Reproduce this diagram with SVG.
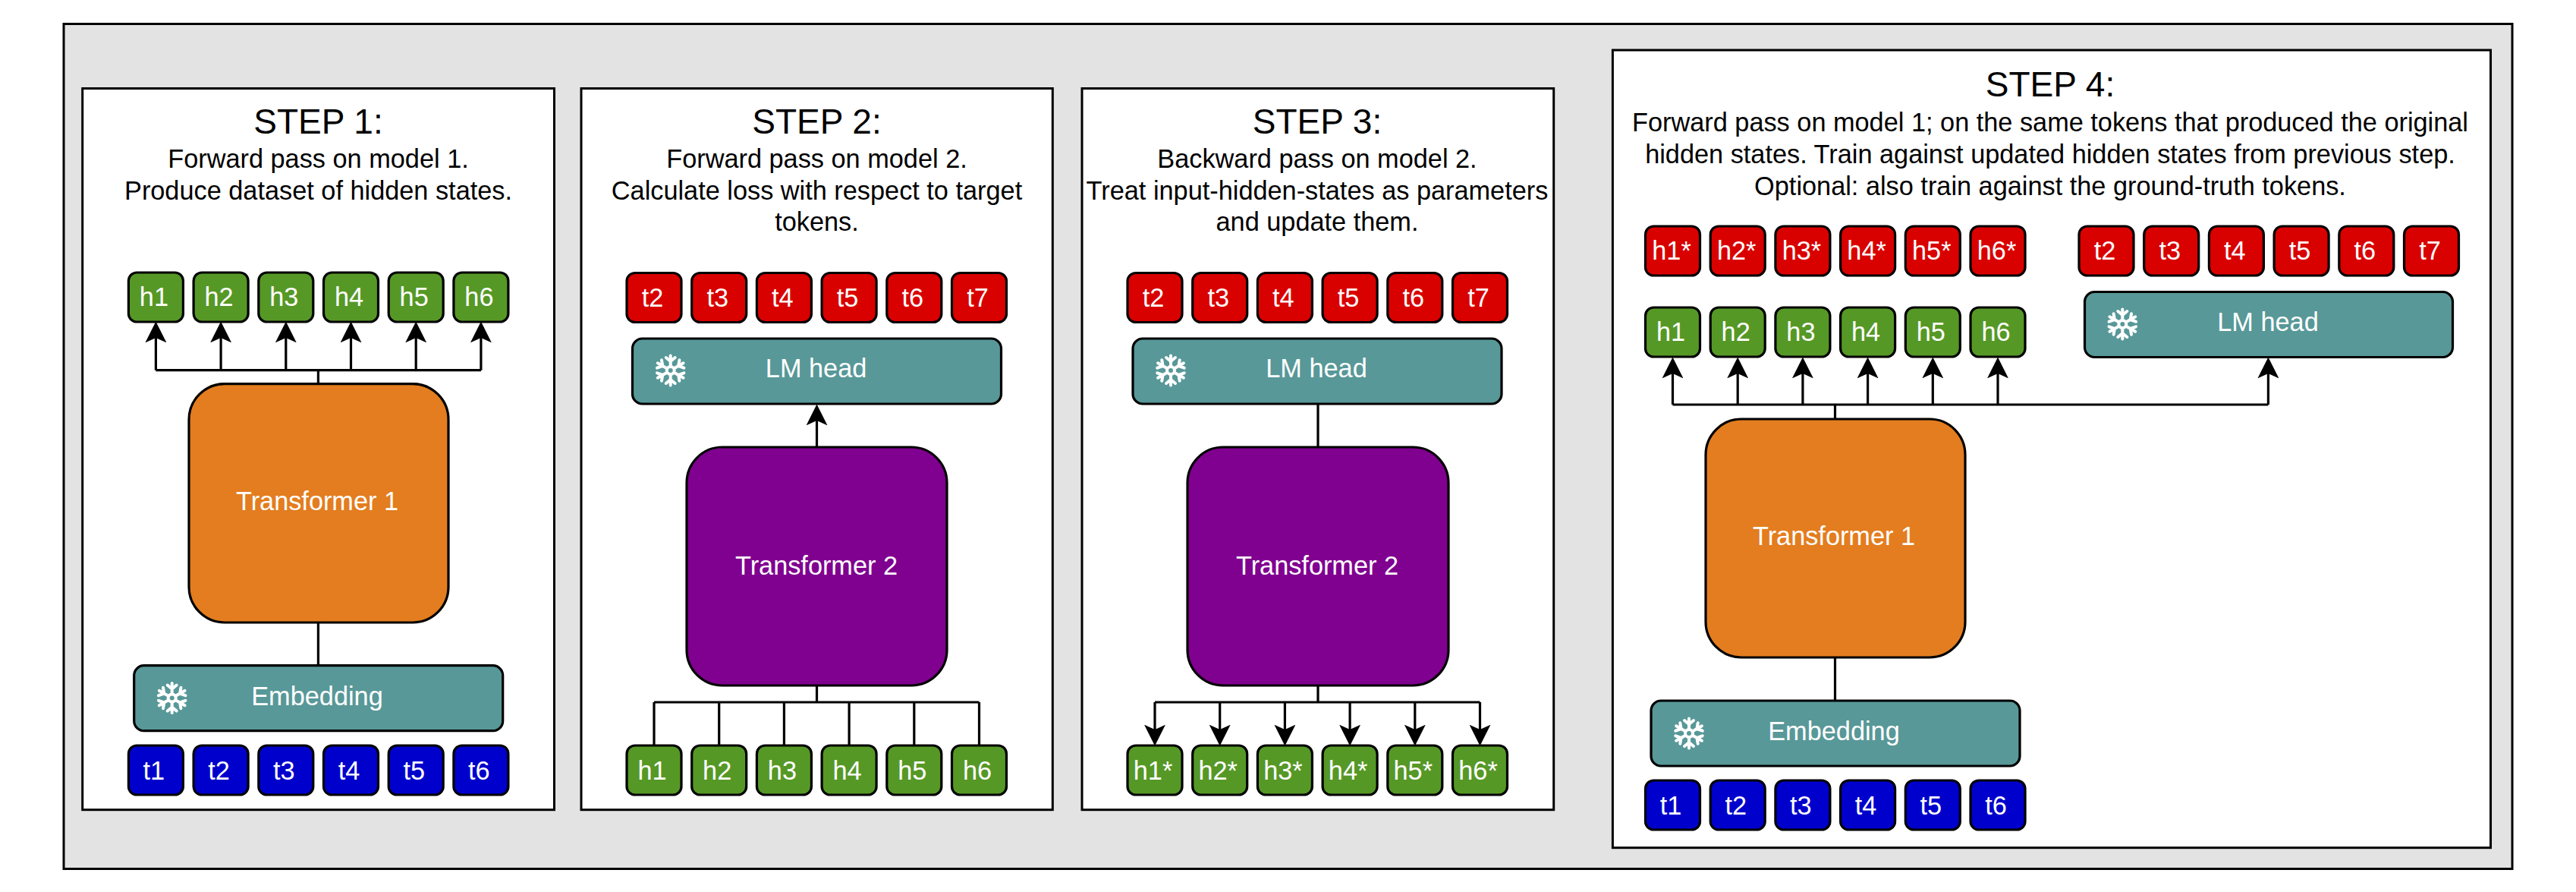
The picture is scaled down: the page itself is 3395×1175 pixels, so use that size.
<svg xmlns="http://www.w3.org/2000/svg" xmlns:xlink="http://www.w3.org/1999/xlink" width="3395" height="1175" viewBox="0 0 3395 1175">
<style>
text{font-family:"Liberation Sans",Arial,Helvetica,sans-serif;text-anchor:middle}
.panel{fill:#fff;stroke:#000;stroke-width:3}
.title{font-size:46px;fill:#000}
.sub{font-size:34.3px;fill:#000}
.n rect{stroke:#000;stroke-width:3.2}
.n text{font-size:34.3px;fill:#fff}
.green rect{fill:#569826}
.red rect{fill:#d90000}
.blue rect{fill:#0000cc}
.teal rect{fill:#589898}
.orange rect{fill:#e37d1f}
.purple rect{fill:#800090}
.conn path{fill:none;stroke:#000;stroke-width:3.2}
.fk{fill:none;stroke:#fff;stroke-width:4;stroke-linecap:round;stroke-linejoin:round}
</style>
<defs>
<marker id="arrow" markerUnits="userSpaceOnUse" markerWidth="28" markerHeight="28" refX="18" refY="13" orient="auto" viewBox="0 0 26 26"><path d="M0,0L26,13L0,26L6,13Z" fill="#000"/></marker>
<path id="arm" class="fk" d="M0,-7V-19.5M-6,-17L0,-12L6,-17"/>
<g id="flake"><circle class="fk" r="5"/><use xlink:href="#arm" href="#arm"/><use xlink:href="#arm" href="#arm" transform="rotate(60)"/><use xlink:href="#arm" href="#arm" transform="rotate(120)"/><use xlink:href="#arm" href="#arm" transform="rotate(180)"/><use xlink:href="#arm" href="#arm" transform="rotate(240)"/><use xlink:href="#arm" href="#arm" transform="rotate(300)"/></g>
</defs>
<rect id="frame" x="84" y="31.5" width="3227" height="1113" fill="#e3e3e3" stroke="#000" stroke-width="3"/>

<g id="panel-step1"><rect class="panel" x="108.7" y="116.5" width="621.8" height="950.2"/><text class="title" x="419.5" y="176">STEP 1:</text><text class="sub" x="419.5" y="220.7">Forward pass on model 1.</text><text class="sub" x="419.5" y="263">Produce dataset of hidden states.</text></g>
<g id="panel-step2"><rect class="panel" x="766" y="116.5" width="621.3" height="950.2"/><text class="title" x="1076.5" y="176">STEP 2:</text><text class="sub" x="1076.5" y="220.7">Forward pass on model 2.</text><text class="sub" x="1076.5" y="263.3">Calculate loss with respect to target</text><text class="sub" x="1076.5" y="304">tokens.</text></g>
<g id="panel-step3"><rect class="panel" x="1426" y="116.5" width="621.7" height="950.2"/><text class="title" x="1736" y="176">STEP 3:</text><text class="sub" x="1736" y="220.7">Backward pass on model 2.</text><text class="sub" x="1736" y="263.3">Treat input-hidden-states as parameters</text><text class="sub" x="1736" y="304">and update them.</text></g>
<g id="panel-step4"><rect class="panel" x="2125.4" y="66" width="1157.1" height="1050.7"/><text class="title" x="2702" y="126.7">STEP 4:</text><text class="sub" x="2702" y="172.7">Forward pass on model 1; on the same tokens that produced the original</text><text class="sub" x="2702" y="215">hidden states. Train against updated hidden states from previous step.</text><text class="sub" x="2702" y="256.5">Optional: also train against the ground-truth tokens.</text></g>

<g id="connectors" class="conn">
<path d="M419.4,505.7V487.7M205.4,487.7H633.9"/>
<path d="M205.4,487.7V432" marker-end="url(#arrow)"/><path d="M291.1,487.7V432" marker-end="url(#arrow)"/><path d="M376.8,487.7V432" marker-end="url(#arrow)"/><path d="M462.5,487.7V432" marker-end="url(#arrow)"/><path d="M548.2,487.7V432" marker-end="url(#arrow)"/><path d="M633.9,487.7V432" marker-end="url(#arrow)"/>
<path d="M419.4,820V876.7"/>
<path d="M1076.5,589V541" marker-end="url(#arrow)"/>
<path d="M1076.5,903V925M862,925H1290.5M862,925V982M947.7,925V982M1033.4,925V982M1119.1,925V982M1204.8,925V982M1290.5,925V982"/>
<path d="M1737,589V531"/>
<path d="M1737,903V925M1522,925H1950.5"/>
<path d="M1522,925V974" marker-end="url(#arrow)"/><path d="M1607.7,925V974" marker-end="url(#arrow)"/><path d="M1693.4,925V974" marker-end="url(#arrow)"/><path d="M1779.1,925V974" marker-end="url(#arrow)"/><path d="M1864.8,925V974" marker-end="url(#arrow)"/><path d="M1950.5,925V974" marker-end="url(#arrow)"/>
<path d="M2418.5,552V533M2204.5,533H2989.4"/>
<path d="M2204.5,533V479" marker-end="url(#arrow)"/><path d="M2290.2,533V479" marker-end="url(#arrow)"/><path d="M2375.9,533V479" marker-end="url(#arrow)"/><path d="M2461.6,533V479" marker-end="url(#arrow)"/><path d="M2547.3,533V479" marker-end="url(#arrow)"/><path d="M2633,533V479" marker-end="url(#arrow)"/><path d="M2989.4,533V479" marker-end="url(#arrow)"/>
<path d="M2418.5,866V923"/>
</g>

<g id="s1-h1" class="n green"><rect x="169.4" y="359" width="72" height="65" rx="11"/><text x="202.9" y="403">h1</text></g>
<g id="s1-h2" class="n green"><rect x="255.1" y="359" width="72" height="65" rx="11"/><text x="288.6" y="403">h2</text></g>
<g id="s1-h3" class="n green"><rect x="340.8" y="359" width="72" height="65" rx="11"/><text x="374.3" y="403">h3</text></g>
<g id="s1-h4" class="n green"><rect x="426.5" y="359" width="72" height="65" rx="11"/><text x="460" y="403">h4</text></g>
<g id="s1-h5" class="n green"><rect x="512.2" y="359" width="72" height="65" rx="11"/><text x="545.7" y="403">h5</text></g>
<g id="s1-h6" class="n green"><rect x="597.9" y="359" width="72" height="65" rx="11"/><text x="631.4" y="403">h6</text></g>
<g id="s1-transformer" class="n orange"><rect x="249" y="505.7" width="342" height="314.3" rx="47"/><text x="418" y="672">Transformer 1</text></g>
<g id="s1-embedding" class="n teal"><rect x="176.7" y="876.7" width="486" height="86" rx="13"/><use href="#flake" xlink:href="#flake" x="226.7" y="919.5"/><text x="418" y="929">Embedding</text></g>
<g id="s1-t1" class="n blue"><rect x="169.4" y="982" width="72" height="65" rx="11"/><text x="202.9" y="1026.7">t1</text></g>
<g id="s1-t2" class="n blue"><rect x="255.1" y="982" width="72" height="65" rx="11"/><text x="288.6" y="1026.7">t2</text></g>
<g id="s1-t3" class="n blue"><rect x="340.8" y="982" width="72" height="65" rx="11"/><text x="374.3" y="1026.7">t3</text></g>
<g id="s1-t4" class="n blue"><rect x="426.5" y="982" width="72" height="65" rx="11"/><text x="460" y="1026.7">t4</text></g>
<g id="s1-t5" class="n blue"><rect x="512.2" y="982" width="72" height="65" rx="11"/><text x="545.7" y="1026.7">t5</text></g>
<g id="s1-t6" class="n blue"><rect x="597.9" y="982" width="72" height="65" rx="11"/><text x="631.4" y="1026.7">t6</text></g>

<g id="s2-t2" class="n red"><rect x="826" y="359.5" width="72" height="65" rx="11"/><text x="860" y="403.5">t2</text></g>
<g id="s2-t3" class="n red"><rect x="911.7" y="359.5" width="72" height="65" rx="11"/><text x="945.7" y="403.5">t3</text></g>
<g id="s2-t4" class="n red"><rect x="997.4" y="359.5" width="72" height="65" rx="11"/><text x="1031.4" y="403.5">t4</text></g>
<g id="s2-t5" class="n red"><rect x="1083.1" y="359.5" width="72" height="65" rx="11"/><text x="1117.1" y="403.5">t5</text></g>
<g id="s2-t6" class="n red"><rect x="1168.8" y="359.5" width="72" height="65" rx="11"/><text x="1202.8" y="403.5">t6</text></g>
<g id="s2-t7" class="n red"><rect x="1254.5" y="359.5" width="72" height="65" rx="11"/><text x="1288.5" y="403.5">t7</text></g>
<g id="s2-lmhead" class="n teal"><rect x="833.5" y="446" width="486" height="86" rx="13"/><use href="#flake" xlink:href="#flake" x="883.7" y="488"/><text x="1075.6" y="497.3">LM head</text></g>
<g id="s2-transformer" class="n purple"><rect x="905" y="589" width="343" height="314" rx="47"/><text x="1076" y="757">Transformer 2</text></g>
<g id="s2-h1" class="n green"><rect x="826" y="982" width="72" height="65" rx="11"/><text x="859.5" y="1026.7">h1</text></g>
<g id="s2-h2" class="n green"><rect x="911.7" y="982" width="72" height="65" rx="11"/><text x="945.2" y="1026.7">h2</text></g>
<g id="s2-h3" class="n green"><rect x="997.4" y="982" width="72" height="65" rx="11"/><text x="1030.9" y="1026.7">h3</text></g>
<g id="s2-h4" class="n green"><rect x="1083.1" y="982" width="72" height="65" rx="11"/><text x="1116.6" y="1026.7">h4</text></g>
<g id="s2-h5" class="n green"><rect x="1168.8" y="982" width="72" height="65" rx="11"/><text x="1202.3" y="1026.7">h5</text></g>
<g id="s2-h6" class="n green"><rect x="1254.5" y="982" width="72" height="65" rx="11"/><text x="1288" y="1026.7">h6</text></g>

<g id="s3-t2" class="n red"><rect x="1486" y="359.5" width="72" height="65" rx="11"/><text x="1520" y="403.5">t2</text></g>
<g id="s3-t3" class="n red"><rect x="1571.7" y="359.5" width="72" height="65" rx="11"/><text x="1605.7" y="403.5">t3</text></g>
<g id="s3-t4" class="n red"><rect x="1657.4" y="359.5" width="72" height="65" rx="11"/><text x="1691.4" y="403.5">t4</text></g>
<g id="s3-t5" class="n red"><rect x="1743.1" y="359.5" width="72" height="65" rx="11"/><text x="1777.1" y="403.5">t5</text></g>
<g id="s3-t6" class="n red"><rect x="1828.8" y="359.5" width="72" height="65" rx="11"/><text x="1862.8" y="403.5">t6</text></g>
<g id="s3-t7" class="n red"><rect x="1914.5" y="359.5" width="72" height="65" rx="11"/><text x="1948.5" y="403.5">t7</text></g>
<g id="s3-lmhead" class="n teal"><rect x="1493" y="446" width="486" height="86" rx="13"/><use href="#flake" xlink:href="#flake" x="1543" y="488"/><text x="1735" y="497.3">LM head</text></g>
<g id="s3-transformer" class="n purple"><rect x="1565" y="589" width="344" height="314" rx="47"/><text x="1736" y="757">Transformer 2</text></g>
<g id="s3-h1" class="n green"><rect x="1486" y="982" width="72" height="65" rx="11"/><text x="1519.5" y="1026.7">h1*</text></g>
<g id="s3-h2" class="n green"><rect x="1571.7" y="982" width="72" height="65" rx="11"/><text x="1605.2" y="1026.7">h2*</text></g>
<g id="s3-h3" class="n green"><rect x="1657.4" y="982" width="72" height="65" rx="11"/><text x="1690.9" y="1026.7">h3*</text></g>
<g id="s3-h4" class="n green"><rect x="1743.1" y="982" width="72" height="65" rx="11"/><text x="1776.6" y="1026.7">h4*</text></g>
<g id="s3-h5" class="n green"><rect x="1828.8" y="982" width="72" height="65" rx="11"/><text x="1862.3" y="1026.7">h5*</text></g>
<g id="s3-h6" class="n green"><rect x="1914.5" y="982" width="72" height="65" rx="11"/><text x="1948" y="1026.7">h6*</text></g>

<g id="s4-r1" class="n red"><rect x="2168.5" y="298" width="72" height="65" rx="11"/><text x="2203" y="342">h1*</text></g>
<g id="s4-r2" class="n red"><rect x="2254.2" y="298" width="72" height="65" rx="11"/><text x="2288.7" y="342">h2*</text></g>
<g id="s4-r3" class="n red"><rect x="2339.9" y="298" width="72" height="65" rx="11"/><text x="2374.4" y="342">h3*</text></g>
<g id="s4-r4" class="n red"><rect x="2425.6" y="298" width="72" height="65" rx="11"/><text x="2460.1" y="342">h4*</text></g>
<g id="s4-r5" class="n red"><rect x="2511.3" y="298" width="72" height="65" rx="11"/><text x="2545.8" y="342">h5*</text></g>
<g id="s4-r6" class="n red"><rect x="2597" y="298" width="72" height="65" rx="11"/><text x="2631.5" y="342">h6*</text></g>
<g id="s4-t2" class="n red"><rect x="2740" y="298" width="72" height="65" rx="11"/><text x="2774" y="342">t2</text></g>
<g id="s4-t3" class="n red"><rect x="2825.7" y="298" width="72" height="65" rx="11"/><text x="2859.7" y="342">t3</text></g>
<g id="s4-t4" class="n red"><rect x="2911.4" y="298" width="72" height="65" rx="11"/><text x="2945.4" y="342">t4</text></g>
<g id="s4-t5" class="n red"><rect x="2997.1" y="298" width="72" height="65" rx="11"/><text x="3031.1" y="342">t5</text></g>
<g id="s4-t6" class="n red"><rect x="3082.8" y="298" width="72" height="65" rx="11"/><text x="3116.8" y="342">t6</text></g>
<g id="s4-t7" class="n red"><rect x="3168.5" y="298" width="72" height="65" rx="11"/><text x="3202.5" y="342">t7</text></g>
<g id="s4-h1" class="n green"><rect x="2168.5" y="405" width="72" height="65" rx="11"/><text x="2202" y="449">h1</text></g>
<g id="s4-h2" class="n green"><rect x="2254.2" y="405" width="72" height="65" rx="11"/><text x="2287.7" y="449">h2</text></g>
<g id="s4-h3" class="n green"><rect x="2339.9" y="405" width="72" height="65" rx="11"/><text x="2373.4" y="449">h3</text></g>
<g id="s4-h4" class="n green"><rect x="2425.6" y="405" width="72" height="65" rx="11"/><text x="2459.1" y="449">h4</text></g>
<g id="s4-h5" class="n green"><rect x="2511.3" y="405" width="72" height="65" rx="11"/><text x="2544.8" y="449">h5</text></g>
<g id="s4-h6" class="n green"><rect x="2597" y="405" width="72" height="65" rx="11"/><text x="2630.5" y="449">h6</text></g>
<g id="s4-lmhead" class="n teal"><rect x="2747.5" y="384.5" width="485" height="86" rx="13"/><use href="#flake" xlink:href="#flake" x="2797.3" y="427"/><text x="2989" y="436">LM head</text></g>
<g id="s4-transformer" class="n orange"><rect x="2248" y="552" width="342" height="314" rx="47"/><text x="2417" y="718">Transformer 1</text></g>
<g id="s4-embedding" class="n teal"><rect x="2176" y="923" width="486" height="86" rx="13"/><use href="#flake" xlink:href="#flake" x="2226" y="966"/><text x="2417" y="975">Embedding</text></g>
<g id="s4-t1b" class="n blue"><rect x="2168.5" y="1028" width="72" height="65" rx="11"/><text x="2202" y="1072.7">t1</text></g>
<g id="s4-t2b" class="n blue"><rect x="2254.2" y="1028" width="72" height="65" rx="11"/><text x="2287.7" y="1072.7">t2</text></g>
<g id="s4-t3b" class="n blue"><rect x="2339.9" y="1028" width="72" height="65" rx="11"/><text x="2373.4" y="1072.7">t3</text></g>
<g id="s4-t4b" class="n blue"><rect x="2425.6" y="1028" width="72" height="65" rx="11"/><text x="2459.1" y="1072.7">t4</text></g>
<g id="s4-t5b" class="n blue"><rect x="2511.3" y="1028" width="72" height="65" rx="11"/><text x="2544.8" y="1072.7">t5</text></g>
<g id="s4-t6b" class="n blue"><rect x="2597" y="1028" width="72" height="65" rx="11"/><text x="2630.5" y="1072.7">t6</text></g>
</svg>
